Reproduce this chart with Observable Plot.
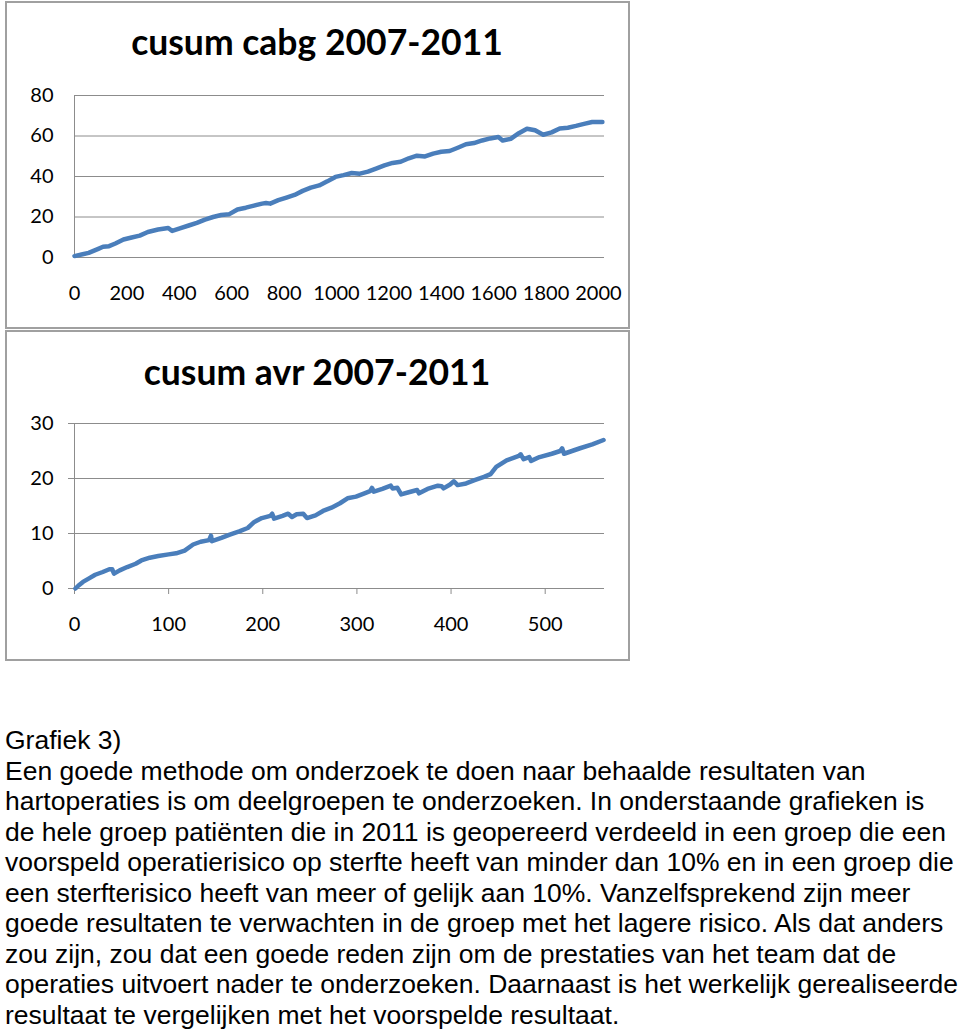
<!DOCTYPE html>
<html>
<head>
<meta charset="utf-8">
<script src="https://cdn.jsdelivr.net/npm/d3@7"></script>
<script src="https://cdn.jsdelivr.net/npm/@observablehq/plot@0.6"></script>
<style>
  html, body { margin: 0; padding: 0; background: #fff; }
  body { width: 960px; height: 1032px; position: relative; overflow: hidden; }
  .panel { position: absolute; box-sizing: border-box; border: 2px solid #a0a0a0; background: #fff; }
  .chart { position: absolute; left: 0; }
  .title { position: absolute; width: 640px; left: -3px; text-align: center; font-family: Lato, "Open Sans", sans-serif; font-weight: 700; font-size: 35.5px; line-height: 35px; color: #000; white-space: nowrap; }
  #caption { position: absolute; left: 5px; top: 725px; font-family: "Liberation Sans", Arial, sans-serif; font-size: 26.5px; line-height: 30.5px; color: #000; white-space: nowrap; }
</style>
</head>
<body>
<div class="panel" style="left:5px;top:1px;width:625px;height:328px"></div>
<div class="panel" style="left:5px;top:330px;width:625px;height:331px"></div>
<div id="c1" class="chart" style="top:0px"></div>
<div id="c2" class="chart" style="top:330px"></div>
<div id="t1" class="title" style="top:24px"></div>
<div id="t2" class="title" style="top:354px"></div>
<div id="caption"></div>
<script>
// ---- data ----
const cabgTitle = "cusum cabg 2007-2011";
const avrTitle = "cusum avr 2007-2011";

const cabgX = [0, 31, 54, 93, 109, 132, 156, 187, 218, 249, 280, 319, 358, 373, 405, 436, 467, 498, 529, 560, 591, 622, 654, 685, 716, 731, 747, 778, 809, 840, 871, 902, 934, 965, 996, 1027, 1058, 1089, 1120, 1151, 1183, 1214, 1245, 1276, 1307, 1338, 1369, 1400, 1432, 1463, 1494, 1525, 1556, 1587, 1618, 1634, 1665, 1696, 1727, 1758, 1789, 1821, 1852, 1883, 1914, 1945, 1976, 2015];
const cabgY = [0.7, 1.6, 2.3, 4.4, 5.3, 5.6, 6.9, 8.9, 9.9, 10.8, 12.6, 13.8, 14.6, 13.1, 14.5, 15.8, 17.1, 18.7, 20.0, 21.0, 21.4, 23.7, 24.6, 25.6, 26.6, 26.9, 26.6, 28.3, 29.6, 30.9, 32.9, 34.5, 35.6, 37.6, 39.8, 40.7, 41.7, 41.4, 42.4, 43.9, 45.5, 46.7, 47.3, 49.0, 50.3, 49.9, 51.3, 52.2, 52.6, 54.2, 55.9, 56.5, 57.8, 58.8, 59.5, 57.8, 58.6, 61.4, 63.6, 62.8, 60.6, 61.8, 63.7, 64.1, 65.0, 66.0, 66.9, 66.9];

const avrX = [1, 4, 9, 15, 22, 30, 37, 40, 42, 48, 56, 65, 71, 80, 89, 100, 108, 117, 126, 134, 143, 145, 146, 156, 165, 175, 184, 191, 199, 208, 210, 212, 221, 227, 231, 236, 243, 247, 256, 264, 273, 282, 290, 299, 308, 314, 316, 318, 327, 336, 338, 343, 347, 355, 364, 366, 375, 386, 390, 392, 399, 403, 407, 416, 425, 435, 442, 448, 459, 472, 474, 477, 483, 485, 494, 507, 516, 518, 520, 537, 550, 562];
const avrY = [0.0, 0.5, 1.2, 1.8, 2.5, 3.0, 3.5, 3.5, 2.7, 3.3, 3.9, 4.5, 5.1, 5.6, 5.9, 6.2, 6.4, 6.9, 8.0, 8.5, 8.8, 9.6, 8.6, 9.2, 9.8, 10.4, 11.0, 12.1, 12.8, 13.2, 13.6, 12.7, 13.2, 13.6, 13.0, 13.5, 13.6, 12.8, 13.3, 14.1, 14.7, 15.5, 16.4, 16.7, 17.3, 17.7, 18.3, 17.6, 18.1, 18.7, 18.2, 18.3, 17.1, 17.5, 17.9, 17.3, 18.1, 18.7, 18.6, 18.2, 18.9, 19.5, 18.8, 19.1, 19.7, 20.3, 20.8, 22.1, 23.3, 24.1, 24.4, 23.5, 23.9, 23.2, 23.9, 24.5, 25.0, 25.5, 24.5, 25.5, 26.2, 27.0];

const cabgXTicks = [0, 200, 400, 600, 800, 1000, 1200, 1400, 1600, 1800, 2000];
const cabgYTicks = [0, 20, 40, 60, 80];
const avrXTicks = [0, 100, 200, 300, 400, 500];
const avrYTicks = [0, 10, 20, 30];

const captionLines = [
  "Grafiek 3)",
  "Een goede methode om onderzoek te doen naar behaalde resultaten van",
  "hartoperaties is om deelgroepen te onderzoeken. In onderstaande grafieken is",
  "de hele groep patiënten die in 2011 is geopereerd verdeeld in een groep die een",
  "voorspeld operatierisico op sterfte heeft van minder dan 10% en in een groep die",
  "een sterfterisico heeft van meer of gelijk aan 10%. Vanzelfsprekend zijn meer",
  "goede resultaten te verwachten in de groep met het lagere risico. Als dat anders",
  "zou zijn, zou dat een goede reden zijn om de prestaties van het team dat de",
  "operaties uitvoert nader te onderzoeken. Daarnaast is het werkelijk gerealiseerde",
  "resultaat te vergelijken met het voorspelde resultaat."
];

// ---- drawing ----
const gridColor = "#8c8c8c";
const lineColor = "#4a7ebb";
const font = "Lato, 'Open Sans', sans-serif";

function chart({xs, ys, xDomain, yDomain, xTicks, yTicks, height, marginTop, marginBottom, ticks}) {
  const idx = d3.range(xs.length);
  return Plot.plot({
    width: 640, height,
    marginLeft: 74, marginRight: 36, marginTop, marginBottom,
    style: {fontFamily: font, fontSize: "20px", color: "#000", background: "transparent", overflow: "visible"},
    x: {domain: xDomain, label: null},
    y: {domain: yDomain, label: null},
    marks: [
      Plot.gridY(yTicks, {stroke: gridColor, strokeOpacity: 1, strokeWidth: 1}),
      Plot.ruleX([xDomain[0]], {y1: yDomain[0], y2: yDomain[1], stroke: gridColor, strokeWidth: 1}),
      Plot.axisY(yTicks, {tickSize: ticks ? 6 : 0, tickPadding: ticks ? 15 : 21, stroke: gridColor, strokeOpacity: 1, tickFormat: d => String(d), fontSize: 20}),
      Plot.axisX(xTicks, {tickSize: ticks ? 6 : 0, tickPadding: ticks ? 22 : 28, stroke: gridColor, strokeOpacity: 1, tickFormat: d => String(d), fontSize: 20}),
      Plot.line(idx, {x: i => xs[i], y: i => ys[i], stroke: lineColor, strokeWidth: 4.5, strokeLinejoin: "round", strokeLinecap: "round", curve: "linear"})
    ]
  });
}

document.getElementById("c1").append(chart({
  xs: cabgX, ys: cabgY, xDomain: [0, 2023], yDomain: [0, 80],
  xTicks: cabgXTicks, yTicks: cabgYTicks, height: 330, marginTop: 95, marginBottom: 73, ticks: false
}));
document.getElementById("c2").append(chart({
  xs: avrX, ys: avrY, xDomain: [0, 563], yDomain: [0, 30],
  xTicks: avrXTicks, yTicks: avrYTicks, height: 331, marginTop: 93, marginBottom: 73, ticks: true
}));

document.getElementById("t1").textContent = cabgTitle;
document.getElementById("t2").textContent = avrTitle;

const cap = document.getElementById("caption");
for (const line of captionLines) {
  const d = document.createElement("div");
  d.textContent = line;
  cap.append(d);
}
</script>
</body>
</html>
